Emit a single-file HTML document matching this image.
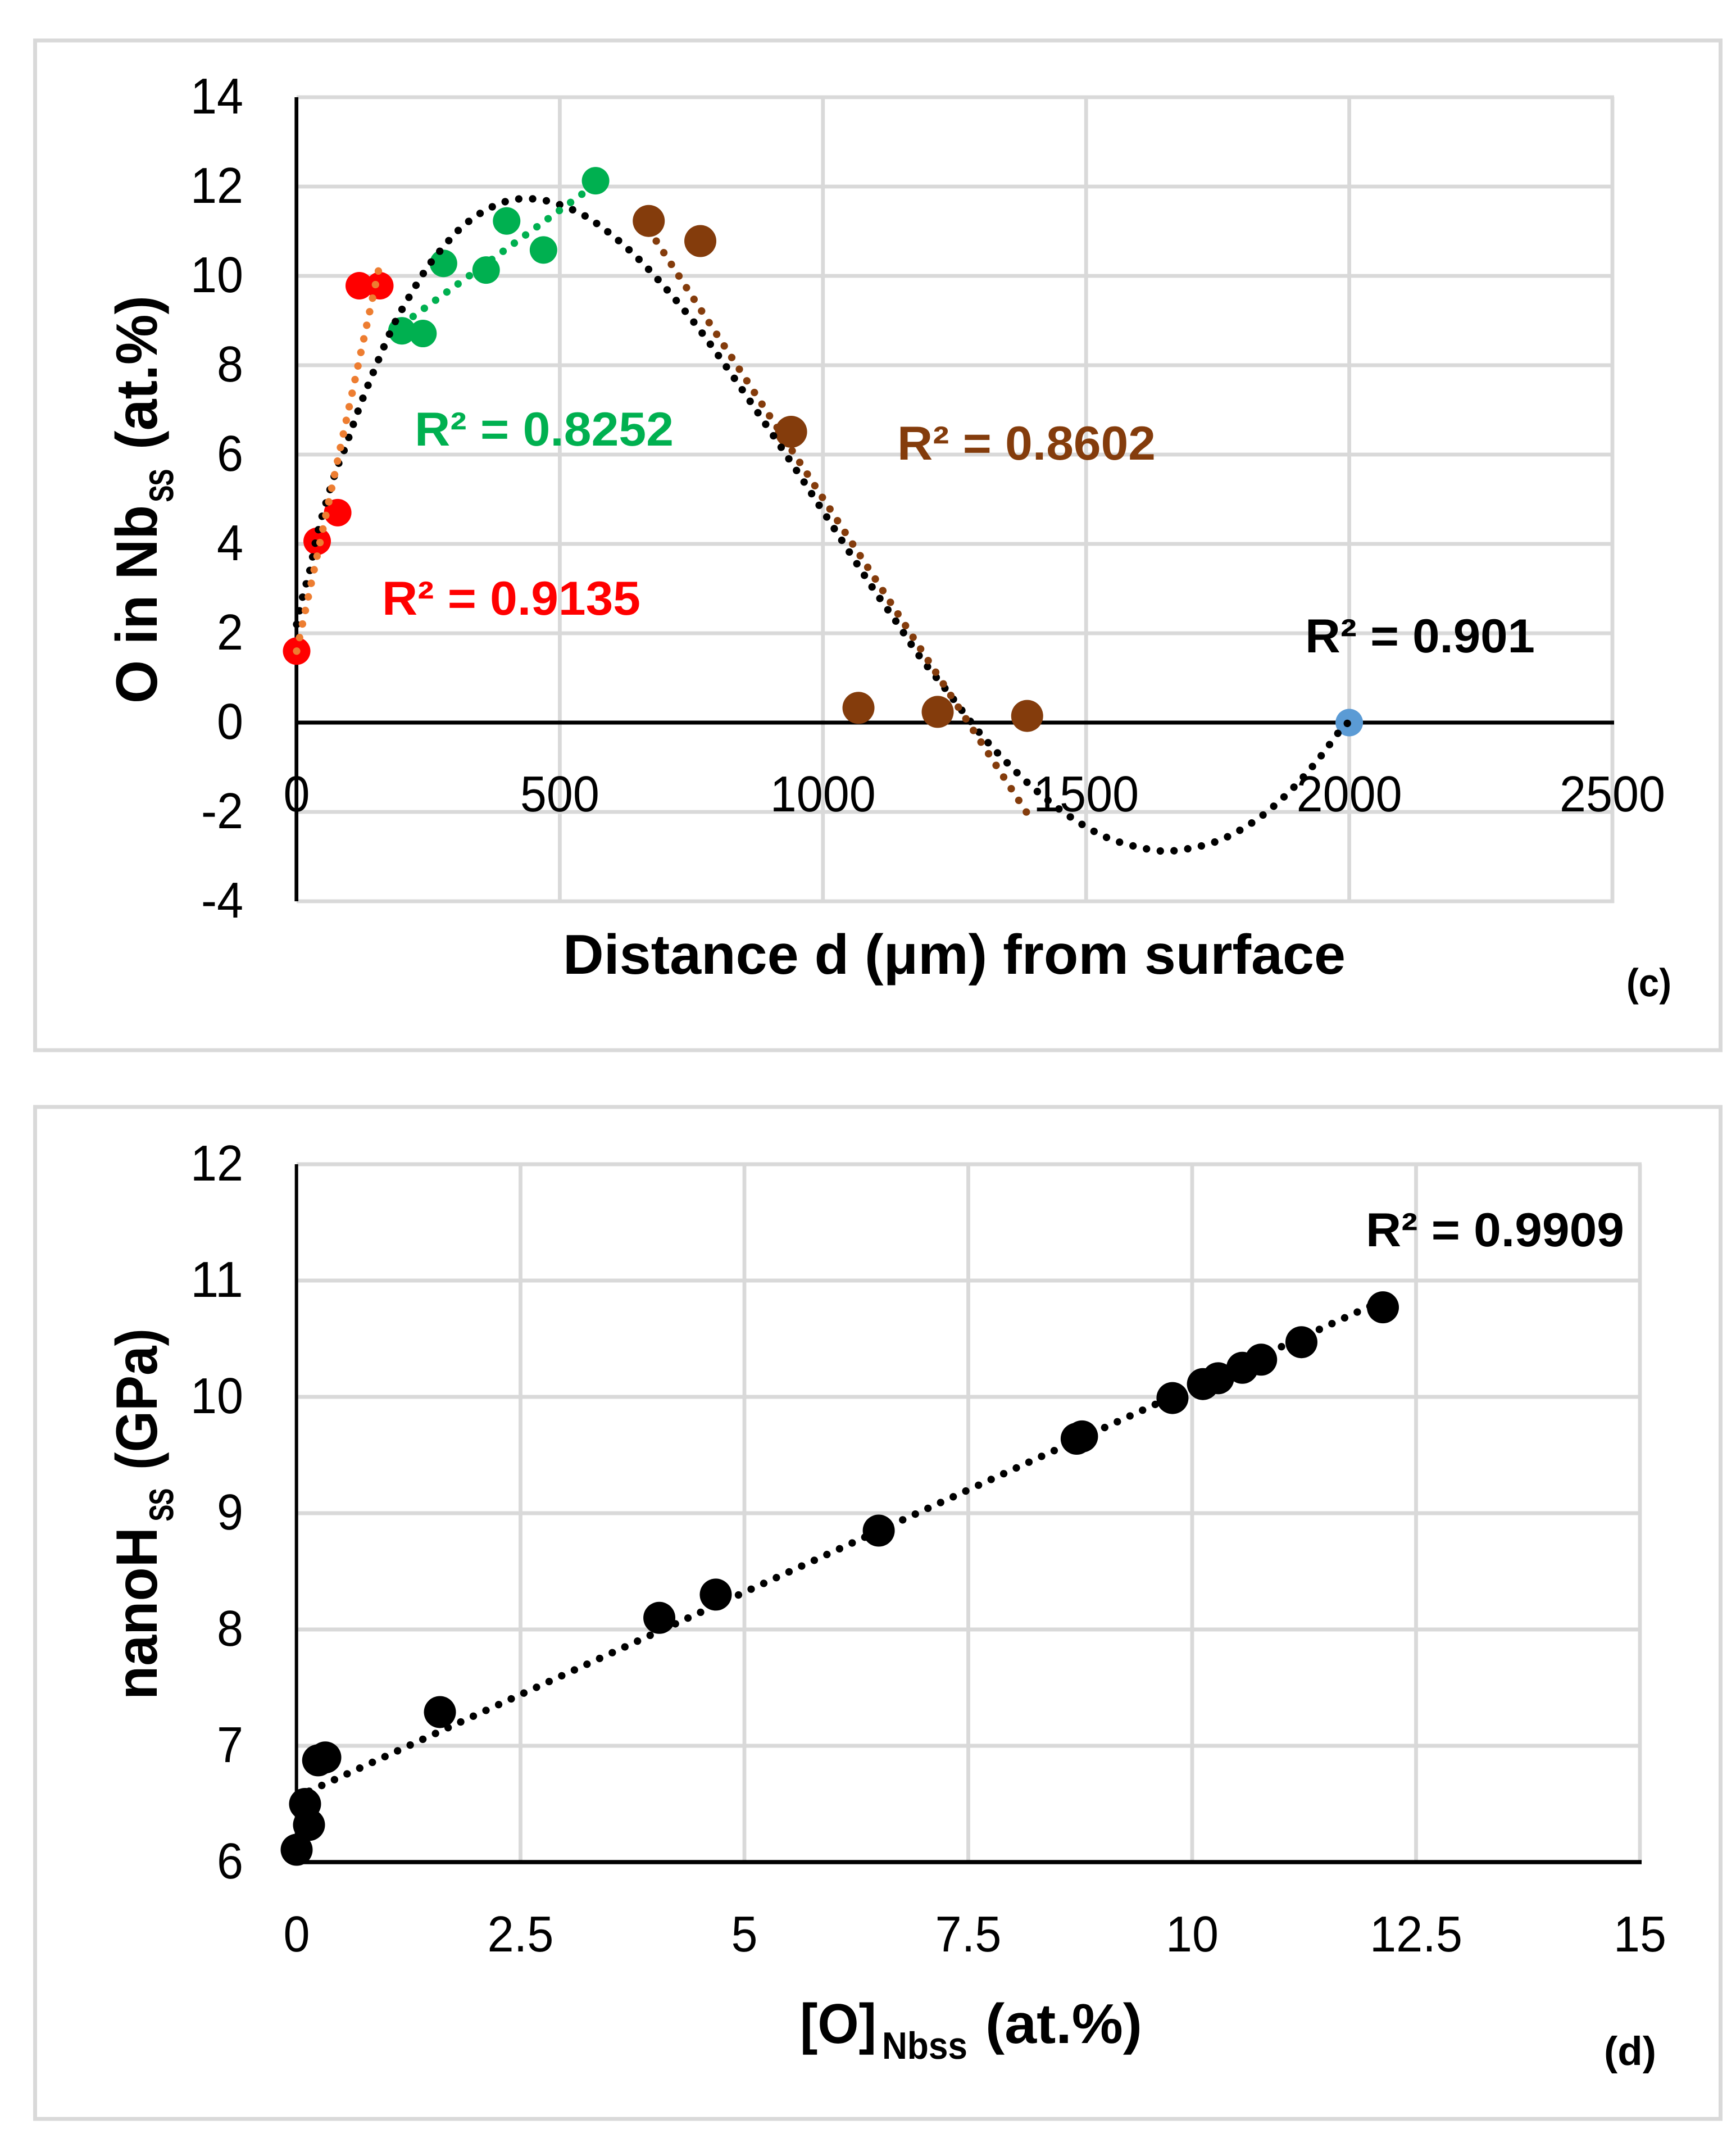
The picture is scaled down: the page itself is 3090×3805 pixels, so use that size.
<!DOCTYPE html>
<html lang="en">
<head>
<meta charset="utf-8">
<title>Oxygen in Nb solid solution and nano-hardness charts</title>
<style>
html,body{margin:0;padding:0;background:#fff;}
svg{display:block;}
text{font-family:"Liberation Sans",sans-serif;fill:#000;text-rendering:geometricPrecision;}
.b{font-weight:bold;}
</style>
</head>
<body>
<svg id="fig" xmlns="http://www.w3.org/2000/svg" width="3090" height="3805" viewBox="0 0 3090 3805">
  <rect x="0" y="0" width="3090" height="3805" fill="#fff"/>
  <rect x="62.5" y="72" width="3000" height="1797" fill="#fff" stroke="#D9D9D9" stroke-width="7"/>
  <rect x="62.5" y="1970" width="3000" height="1801" fill="#fff" stroke="#D9D9D9" stroke-width="7"/>

  <g id="c-grid"></g>
  <g id="d-grid"></g>
  <g id="c-ticks"></g>
  <g id="d-ticks"></g>
  <g id="c-axes"></g>
  <g id="d-axes"></g>

  <g>
    <text class="b" transform="translate(279,1252) rotate(-90)" font-size="104" textLength="353" lengthAdjust="spacingAndGlyphs">O in Nb</text>
    <text transform="translate(307,893) rotate(-90)" font-size="75" textLength="58" lengthAdjust="spacingAndGlyphs" stroke="#000" stroke-width="2">ss</text>
    <text class="b" transform="translate(279,800) rotate(-90)" font-size="104" textLength="274" lengthAdjust="spacingAndGlyphs">(at.%)</text>
  </g>
  <text class="b" x="1002" y="1733" font-size="100" textLength="1393" lengthAdjust="spacingAndGlyphs">Distance d (μm) from surface</text>
  <text class="b" x="2895" y="1773" font-size="70" textLength="80" lengthAdjust="spacingAndGlyphs">(c)</text>

  <g>
    <text class="b" transform="translate(279,3025) rotate(-90)" font-size="104" textLength="307" lengthAdjust="spacingAndGlyphs">nanoH</text>
    <text transform="translate(307,2707) rotate(-90)" font-size="75" textLength="58" lengthAdjust="spacingAndGlyphs" stroke="#000" stroke-width="2">ss</text>
    <text class="b" transform="translate(279,2616) rotate(-90)" font-size="104" textLength="252" lengthAdjust="spacingAndGlyphs">(GPa)</text>
  </g>
  <g>
    <text class="b" x="1424" y="3636" font-size="100" textLength="136" lengthAdjust="spacingAndGlyphs">[O]</text>
    <text class="b" x="1570" y="3664" font-size="68" textLength="152" lengthAdjust="spacingAndGlyphs">Nbss</text>
    <text class="b" x="1754" y="3636" font-size="100" textLength="279" lengthAdjust="spacingAndGlyphs">(at.%)</text>
  </g>
  <text class="b" x="2855" y="3675" font-size="72" textLength="93" lengthAdjust="spacingAndGlyphs">(d)</text>

  <g id="c-marks"></g>
  <g id="c-trends"></g>
  <g id="d-marks"></g>
  <g id="d-trends"></g>

  <text class="b" x="738" y="793" font-size="85" textLength="461" lengthAdjust="spacingAndGlyphs" style="fill:#00B050">R² = 0.8252</text>
  <text class="b" x="680" y="1094" font-size="85" textLength="460" lengthAdjust="spacingAndGlyphs" style="fill:#FF0000">R² = 0.9135</text>
  <text class="b" x="1597" y="818" font-size="85" textLength="460" lengthAdjust="spacingAndGlyphs" style="fill:#843C0C">R² = 0.8602</text>
  <text class="b" x="2323" y="1161" font-size="85" textLength="409" lengthAdjust="spacingAndGlyphs">R² = 0.901</text>
  <text class="b" x="2431" y="2218" font-size="85" textLength="460" lengthAdjust="spacingAndGlyphs">R² = 0.9909</text>
</svg>
<script>
// Chart (c): tick labels
var cXTicks = [0, 500, 1000, 1500, 2000, 2500];
var cYTicks = [14, 12, 10, 8, 6, 4, 2, 0, -2, -4];

// Chart (c): series
var redX = [0, 39, 78, 119, 158];
var redY = [1.6, 4.06, 4.7, 9.78, 9.78];
var greenX = [200, 240, 279, 360, 399, 469, 568];
var greenY = [8.77, 8.71, 10.28, 10.13, 11.23, 10.58, 12.13];
var brownX = [669, 767, 939.5, 1067.5, 1218, 1388];
var brownY = [11.23, 10.78, 6.51, 0.33, 0.24, 0.15];
var blueX = [2000];
var blueY = [0];

// Chart (c): trendlines
var redTrendX = [0, 157];
var redTrendY = [1.6, 10.2];
var greenTrendX = [200, 568];
var greenTrendY = [8.91, 12.05];
var brownTrendX = [669, 1388];
var brownTrendY = [11.04, -2.03];
var blackTrendX = [0, 11.7, 25.6, 41, 72.6, 92.6, 119, 148.4, 180, 205, 246, 279, 314.6, 359, 409, 461, 512, 560.6, 622.5, 679.5, 749, 812, 887.7, 946.7, 1004.6, 1092, 1138, 1182, 1233, 1297, 1351.6, 1410, 1473.7, 1543, 1621, 1673.5, 1750, 1820.7, 1881.7, 1936, 1985, 2000];
var blackTrendY = [2.2, 2.83, 3.43, 4.3, 5.56, 6.17, 7.05, 7.92, 8.79, 9.35, 10.15, 10.65, 11.1, 11.47, 11.7, 11.71, 11.54, 11.25, 10.68, 10.01, 9.05, 8.04, 6.74, 5.7, 4.65, 3.06, 2.28, 1.51, 0.75, -0.22, -0.92, -1.57, -2.14, -2.59, -2.84, -2.86, -2.65, -2.2, -1.6, -0.9, -0.14, 0];

// Chart (d): tick labels
var dXTicks = ['0', '2.5', '5', '7.5', '10', '12.5', '15'];
var dYTicks = [12, 11, 10, 9, 8, 7, 6];

// Chart (d): series
var hardX = [0, 0.138, 0.094, 0.24, 0.32, 1.6, 4.05, 4.68, 6.5, 8.71, 8.77, 9.78, 10.12, 10.29, 10.56, 10.77, 11.22, 12.13];
var hardY = [6.106, 6.32, 6.5, 6.875, 6.9, 7.29, 8.1, 8.3, 8.85, 9.64, 9.66, 9.99, 10.11, 10.16, 10.25, 10.32, 10.47, 10.77];
var hardTrendX = [0, 12.13];
var hardTrendY = [6.56, 10.83];

var NS = 'http://www.w3.org/2000/svg';
function cx(v) { return 528 + v * 0.9368; }
function cy(v) { return 1286 - v * 79.5; }
function dx(v) { return 528 + v * 159.4; }
function dy(v) { return 3314 - (v - 6) * 207; }

function mk(tag, parentId) {
  var el = document.createElementNS(NS, tag);
  document.getElementById(parentId).appendChild(el);
  return el;
}
function setLine(el, x1, y1, x2, y2, color, w) {
  el.setAttribute('x1', x1);
  el.setAttribute('y1', y1);
  el.setAttribute('x2', x2);
  el.setAttribute('y2', y2);
  el.setAttribute('stroke', color);
  el.setAttribute('stroke-width', w);
}
function labelWidth(s) {
  var w = 0;
  for (var i = 0; i < s.length; i++) {
    w += s[i] === '.' ? 24 : s[i] === '-' ? 28 : 47;
  }
  return w;
}
function setLabel(el, s, x, y, anchor) {
  el.textContent = s;
  el.setAttribute('x', x);
  el.setAttribute('y', y);
  el.setAttribute('font-size', 90);
  el.setAttribute('text-anchor', anchor);
  el.setAttribute('textLength', labelWidth(s));
  el.setAttribute('lengthAdjust', 'spacingAndGlyphs');
}
function setDots(el, color, w) {
  el.setAttribute('fill', 'none');
  el.setAttribute('stroke', color);
  el.setAttribute('stroke-width', w);
  el.setAttribute('stroke-linecap', 'round');
  el.setAttribute('stroke-dasharray', '0.01 24.7');
}
function curvePath(xs, ys, fx, fy) {
  var p = xs.map(function (x, i) { return [fx(x), fy(ys[i])]; });
  var d = 'M' + p[0][0] + ' ' + p[0][1];
  for (var i = 0; i < p.length - 1; i++) {
    var a = p[Math.max(i - 1, 0)], b = p[i], c = p[i + 1], e = p[Math.min(i + 2, p.length - 1)];
    d += 'C' + (b[0] + (c[0] - a[0]) / 6) + ' ' + (b[1] + (c[1] - a[1]) / 6) + ' ' +
         (c[0] - (e[0] - b[0]) / 6) + ' ' + (c[1] - (e[1] - b[1]) / 6) + ' ' + c[0] + ' ' + c[1];
  }
  return d;
}

// Chart (c) grid, ticks
cYTicks.forEach(function (t) {
  if (t !== 0) {
    var g = mk('line', 'c-grid');
    setLine(g, 528, cy(t), cx(2500) + 3, cy(t), '#D9D9D9', 6.8);
    
    
  }
  var l = mk('text', 'c-ticks');
  setLabel(l, String(t), 433, cy(t) + 29, 'end');
  
  
});
cXTicks.forEach(function (t) {
  if (t !== 0) {
    var g = mk('line', 'c-grid');
    setLine(g, cx(t), cy(14), cx(t), cy(-4) + 3, '#D9D9D9', 6.8);
    
    
  }
  var l = mk('text', 'c-ticks');
  setLabel(l, String(t), cx(t), 1444, 'middle');
  
  
});

// Chart (c) axes
var cAxisY = mk('line', 'c-axes');
setLine(cAxisY, 527.7, cy(14), 527.7, cy(-4), '#000', 6.7);


var cAxisX = mk('line', 'c-axes');
setLine(cAxisX, 528, cy(0), cx(2500) + 3, cy(0), '#000', 7);



// Chart (c) points
function drawC(xs, ys, color, r) {
  xs.forEach(function (x, i) {
    var c = mk('circle', 'c-marks');
    c.setAttribute('cx', cx(x));
    c.setAttribute('cy', cy(ys[i]));
    c.setAttribute('r', r);
    c.setAttribute('fill', color);
    
    
  });
}
drawC(blueX, blueY, '#5B9BD5', 24.5);
drawC(redX, redY, '#FF0000', 24.5);
drawC(greenX, greenY, '#00B050', 24.5);
drawC(brownX, brownY, '#843C0C', 28.5);

// Chart (c) trendlines
var blackPath = mk('path', 'c-trends');
blackPath.setAttribute('d', curvePath(blackTrendX, blackTrendY, cx, cy));
setDots(blackPath, '#000', 13.3);



var redPath = mk('path', 'c-trends');
redPath.setAttribute('d', curvePath(redTrendX, redTrendY, cx, cy));
setDots(redPath, '#ED7D31', 13.3);



var greenPath = mk('path', 'c-trends');
greenPath.setAttribute('d', curvePath(greenTrendX, greenTrendY, cx, cy));
setDots(greenPath, '#00B050', 13.3);



var brownPath = mk('path', 'c-trends');
brownPath.setAttribute('d', curvePath(brownTrendX, brownTrendY, cx, cy));
setDots(brownPath, '#843C0C', 13.3);



// Chart (d) grid, ticks
dYTicks.forEach(function (t) {
  if (t !== 6) {
    var g = mk('line', 'd-grid');
    setLine(g, 528, dy(t), dx(15) + 3, dy(t), '#D9D9D9', 7);
    
    
  }
  var l = mk('text', 'd-ticks');
  setLabel(l, String(t), 433, dy(t) + 29, 'end');
  
  
});
dXTicks.forEach(function (t) {
  var v = parseFloat(t);
  if (v !== 0) {
    var g = mk('line', 'd-grid');
    setLine(g, dx(v), dy(12), dx(v), dy(6), '#D9D9D9', 6.8);
    
    
  }
  var l = mk('text', 'd-ticks');
  setLabel(l, t, dx(v), 3473, 'middle');
  
  
});

// Chart (d) axes
var dAxisY = mk('line', 'd-axes');
setLine(dAxisY, 527.7, dy(12), 527.7, dy(6), '#000', 6);


var dAxisX = mk('line', 'd-axes');
setLine(dAxisX, 528, dy(6), dx(15) + 3, dy(6), '#000', 7.5);



// Chart (d) points
hardX.forEach(function (x, i) {
  var c = mk('circle', 'd-marks');
  c.setAttribute('cx', dx(x));
  c.setAttribute('cy', dy(hardY[i]));
  c.setAttribute('r', 28.5);
  c.setAttribute('fill', '#000');
  
  
});

// Chart (d) trendline
var hardPath = mk('path', 'd-trends');
hardPath.setAttribute('d', curvePath(hardTrendX, hardTrendY, dx, dy));
setDots(hardPath, '#000', 13.3);


</script>
</body>
</html>
